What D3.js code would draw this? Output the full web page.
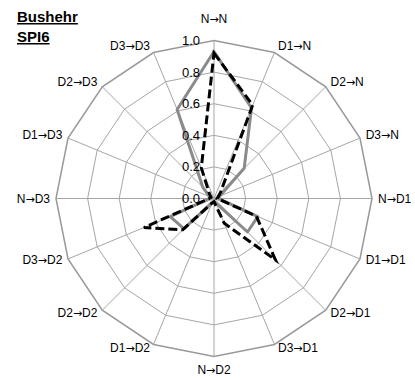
<!DOCTYPE html>
<html>
<head>
<meta charset="utf-8">
<script src="https://cdn.jsdelivr.net/npm/d3@7"></script>
<style>
  html, body { margin: 0; padding: 0; background: #fff; }
  svg { display: block; }
  text { font-family: "Liberation Sans", Arial, sans-serif; fill: #000; }
  .arrow { font-family: "DejaVu Sans", sans-serif; font-size: 11px; }
</style>
</head>
<body>
<svg id="chart" width="415" height="378"></svg>
<script>
// Transition categories (spokes), clockwise from the top
const categories = ["N→N", "D1→N", "D2→N", "D3→N", "N→D1", "D1→D1", "D2→D1", "D3→D1",
                    "N→D2", "D1→D2", "D2→D2", "D3→D2", "N→D3", "D1→D3", "D2→D3", "D3→D3"];

// Transition probabilities, solid grey series
const seriesSolid = [0.93, 0.62, 0.27, 0.04, 0.03, 0.30, 0.30, 0.03,
                     0.02, 0.03, 0.27, 0.30, 0.03, 0.03, 0.10, 0.61];

// Transition probabilities, dashed black series
const seriesDashed = [0.92, 0.64, 0.06, 0.03, 0.02, 0.29, 0.55, 0.17,
                      0.02, 0.03, 0.28, 0.48, 0.03, 0.02, 0.04, 0.21];

// Radial axis ticks
const tickValues = [0.0, 0.2, 0.4, 0.6, 0.8, 1.0];

const titleLines = ["Bushehr", "SPI6"];

const svg = d3.select("#chart");
const cx = 214, cy = 198.5, R = 158;

const r = d3.scaleLinear().domain([0, 1]).range([0, R]);
const angle = d3.scaleLinear().domain([0, categories.length]).range([0, 2 * Math.PI]);

const g = svg.append("g").attr("transform", `translate(${cx},${cy})`);

const pt = (i, v) => [Math.sin(angle(i)) * r(v), -Math.cos(angle(i)) * r(v)];

// Polygon gridlines
const grid = g.append("g").attr("class", "grid");
tickValues.filter(t => t > 0).forEach(t => {
  grid.append("polygon")
    .attr("points", categories.map((c, i) => pt(i, t).join(",")).join(" "))
    .attr("fill", "none")
    .attr("stroke", t === 1 ? "#999" : "#a6a6a6")
    .attr("stroke-width", t === 1 ? 1.5 : 1);
});

// Spokes
categories.forEach((c, i) => {
  const [x, y] = pt(i, 1);
  grid.append("line")
    .attr("x1", 0).attr("y1", 0).attr("x2", x).attr("y2", y)
    .attr("stroke", "#a6a6a6").attr("stroke-width", 1);
});

// Series
const radial = d3.lineRadial()
  .angle((d, i) => angle(i))
  .radius(d => r(d))
  .curve(d3.curveLinearClosed);

g.append("path")
  .datum(seriesSolid)
  .attr("d", radial)
  .attr("fill", "none")
  .attr("stroke", "#8a8a8a")
  .attr("stroke-width", 3)
  .attr("stroke-linejoin", "round");

g.append("path")
  .datum(seriesDashed)
  .attr("d", radial)
  .attr("fill", "none")
  .attr("stroke", "#000")
  .attr("stroke-width", 3)
  .attr("stroke-dasharray", "9,4");

// Radial tick labels along the top spoke
g.append("g").selectAll("text")
  .data(tickValues)
  .join("text")
  .attr("x", -14)
  .attr("y", d => -r(d))
  .attr("text-anchor", "end")
  .attr("dominant-baseline", "central")
  .style("font-size", "13px")
  .text(d => d.toFixed(1));

// Category labels around the outer ring; the arrow gets a font with a fuller glyph
g.append("g").selectAll("text")
  .data(categories)
  .join("text")
  .style("font-size", "12px")
  .each(function (c, i) {
    const a = angle(i);
    const s = Math.sin(a), co = Math.cos(a);
    const [vx, vy] = pt(i, 1);
    const t = d3.select(this);
    let x = vx, y = vy, anchor = "middle";
    if (Math.abs(s) < 0.01) {
      y = co > 0 ? vy - 22 : vy + 13.5;
    } else {
      const pad = 2 + 4 * Math.abs(s);
      anchor = s > 0 ? "start" : "end";
      x = vx + (s > 0 ? pad : -pad);
      y = vy + (co > 0 ? -7 * co : -4 * co);
    }
    t.attr("x", x).attr("y", y)
      .attr("text-anchor", anchor)
      .attr("dominant-baseline", "central");
    const [from, to] = c.split("→");
    t.append("tspan").text(from);
    t.append("tspan").attr("class", "arrow").text("→");
    t.append("tspan").text(to);
  });

// Title
svg.append("g").selectAll("text")
  .data(titleLines)
  .join("text")
  .attr("x", 17)
  .attr("y", (d, i) => 22 + i * 20)
  .style("font-size", "15px")
  .style("font-weight", "bold")
  .style("text-decoration", "underline")
  .text(d => d);
</script>
</body>
</html>
